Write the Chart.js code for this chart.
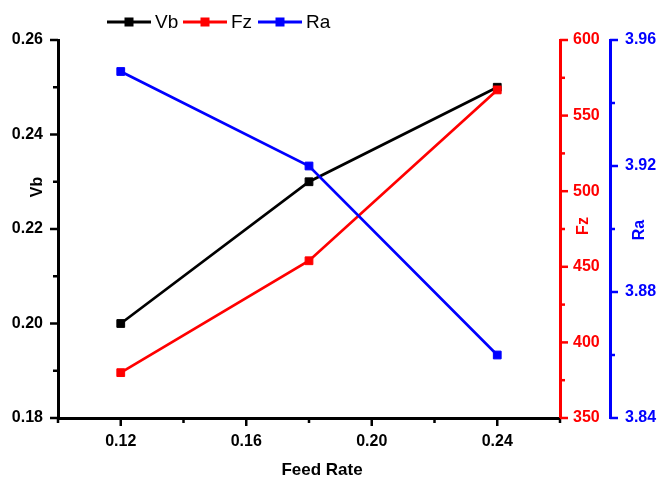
<!DOCTYPE html>
<html>
<head>
<meta charset="utf-8">
<script src="https://cdn.jsdelivr.net/npm/chart.js@4/dist/chart.umd.min.js"></script>
<style>
html, body { margin: 0; padding: 0; background: #fff; }
#wrap { width: 672px; height: 480px; }
</style>
</head>
<body>
<div id="wrap"><canvas id="chart"></canvas></div>
<script>
const feedRate = [0.12, 0.18, 0.24];
const vb = [0.20, 0.23, 0.25];
const fz = [380, 454, 567];
const ra = [3.95, 3.92, 3.86];

const xTicks = [0.12, 0.16, 0.20, 0.24];
const vbTicks = [0.18, 0.20, 0.22, 0.24, 0.26];
const fzTicks = [350, 400, 450, 500, 550, 600];
const raTicks = [3.84, 3.88, 3.92, 3.96];

const FONT = '"Liberation Sans", Arial, sans-serif';
const RED = '#ff0000';
const BLUE = '#0000ff';
const AXIS_W = 3;

const toPoints = (ys) => feedRate.map((x, i) => ({ x: x, y: ys[i] }));

const setTicks = (list) => (scale) => {
    scale.ticks = list.map(v => ({ value: v }));
};

// axis tick marks: long at labelled values, short half way between
const tickMarks = {
    id: 'tickMarks',
    afterDraw(chart) {
        const ctx = chart.ctx;
        const area = chart.chartArea;
        const defs = [
            { id: 'x', list: xTicks, color: '#000', dir: 'down', pos: area.bottom },
            { id: 'y', list: vbTicks, color: '#000', dir: 'left', pos: area.left },
            { id: 'yFz', list: fzTicks, color: RED, dir: 'right', pos: chart.scales.yFz.left },
            { id: 'yRa', list: raTicks, color: BLUE, dir: 'right', pos: chart.scales.yRa.left }
        ];
        ctx.save();
        ctx.lineWidth = 2.5;
        defs.forEach(d => {
            const scale = chart.scales[d.id];
            const step = d.list[1] - d.list[0];
            const marks = [];
            d.list.forEach(v => marks.push([v, 8]));
            for (let v = d.list[0] - step / 2; v <= scale.max + step * 0.01; v += step) {
                if (v >= scale.min - step * 0.01) marks.push([v, 5]);
            }
            ctx.strokeStyle = d.color;
            marks.forEach(([v, len]) => {
                const p = scale.getPixelForValue(v);
                ctx.beginPath();
                if (d.dir === 'down') { ctx.moveTo(p, d.pos); ctx.lineTo(p, d.pos + len); }
                if (d.dir === 'left') { ctx.moveTo(d.pos, p); ctx.lineTo(d.pos - len, p); }
                if (d.dir === 'right') { ctx.moveTo(d.pos, p); ctx.lineTo(d.pos + len, p); }
                ctx.stroke();
            });
        });
        ctx.restore();
    }
};

// axis titles and the legend row on top
const labels = {
    id: 'labels',
    afterDraw(chart) {
        const ctx = chart.ctx;
        const s = chart.scales;
        ctx.save();
        ctx.textAlign = 'center';
        ctx.textBaseline = 'middle';
        ctx.font = 'bold 17px ' + FONT;
        ctx.fillStyle = '#000';
        ctx.fillText('Feed Rate', 322, 470);

        ctx.font = 'bold 16px ' + FONT;
        const vertical = (text, x, y, color) => {
            ctx.save();
            ctx.translate(x, y);
            ctx.rotate(-Math.PI / 2);
            ctx.fillStyle = color;
            ctx.fillText(text, 0, 0);
            ctx.restore();
        };
        vertical('Vb', s.y.left + 38, 187, '#000');
        vertical('Fz', s.yFz.left + 24, 226, RED);
        vertical('Ra', s.yRa.left + 30, 230, BLUE);

        // legend
        const starts = [107, 183, 258];
        ctx.font = '19px ' + FONT;
        ctx.textAlign = 'left';
        chart.data.datasets.forEach((ds, i) => {
            const x0 = starts[i];
            const y0 = 22;
            ctx.strokeStyle = ds.borderColor;
            ctx.lineWidth = 2.8;
            ctx.beginPath();
            ctx.moveTo(x0, y0);
            ctx.lineTo(x0 + 44, y0);
            ctx.stroke();
            ctx.fillStyle = ds.borderColor;
            ctx.fillRect(x0 + 22 - 4.5, y0 - 4.5, 9, 9);
            ctx.fillStyle = '#000';
            ctx.fillText(ds.label, x0 + 48, y0 + 1);
        });
        ctx.restore();
    }
};

const lineSet = (label, data, color, axis, order) => ({
    label: label,
    data: data,
    yAxisID: axis,
    borderColor: color,
    backgroundColor: color,
    borderWidth: 2.7,
    tension: 0,
    pointStyle: 'rect',
    pointRadius: 5.5,
    pointBorderWidth: 1,
    order: order
});

const tickFont = { family: FONT, size: 16, weight: 'bold' };

new Chart(document.getElementById('chart').getContext('2d'), {
    type: 'line',
    data: {
        datasets: [
            lineSet('Vb', toPoints(vb), '#000000', 'y', 3),
            lineSet('Fz', toPoints(fz), RED, 'yFz', 2),
            lineSet('Ra', toPoints(ra), BLUE, 'yRa', 1)
        ]
    },
    options: {
        responsive: true,
        maintainAspectRatio: false,
        animation: false,
        layout: { padding: { top: 40, left: 0, right: 0, bottom: 0 } },
        plugins: {
            legend: { display: false },
            tooltip: { enabled: false }
        },
        scales: {
            x: {
                type: 'linear',
                position: 'bottom',
                min: 0.10,
                max: 0.26,
                afterBuildTicks: setTicks(xTicks),
                afterFit: (scale) => { scale.height = 62; },
                grid: { display: false, drawTicks: false },
                border: { display: true, color: '#000', width: AXIS_W },
                ticks: {
                    color: '#000', font: tickFont, padding: 14, maxRotation: 0,
                    callback: (v) => v.toFixed(2)
                }
            },
            y: {
                type: 'linear',
                position: 'left',
                min: 0.18,
                max: 0.26,
                afterBuildTicks: setTicks(vbTicks),
                afterFit: (scale) => { scale.width = 58; },
                grid: { display: false, drawTicks: false },
                border: { display: true, color: '#000', width: AXIS_W },
                ticks: {
                    color: '#000', font: tickFont, padding: 15,
                    callback: (v) => v.toFixed(2)
                }
            },
            yFz: {
                type: 'linear',
                position: 'right',
                min: 350,
                max: 600,
                afterBuildTicks: setTicks(fzTicks),
                afterFit: (scale) => { scale.width = 50; },
                grid: { display: false, drawTicks: false },
                border: { display: true, color: RED, width: AXIS_W },
                ticks: {
                    color: RED, font: tickFont, padding: 13,
                    callback: (v) => String(Math.round(v))
                }
            },
            yRa: {
                type: 'linear',
                position: 'right',
                min: 3.84,
                max: 3.96,
                afterBuildTicks: setTicks(raTicks),
                afterFit: (scale) => { scale.width = 62; },
                grid: { display: false, drawTicks: false },
                border: { display: true, color: BLUE, width: AXIS_W },
                ticks: {
                    color: BLUE, font: tickFont, padding: 15,
                    callback: (v) => v.toFixed(2)
                }
            }
        }
    },
    plugins: [tickMarks, labels]
});
</script>
</body>
</html>
